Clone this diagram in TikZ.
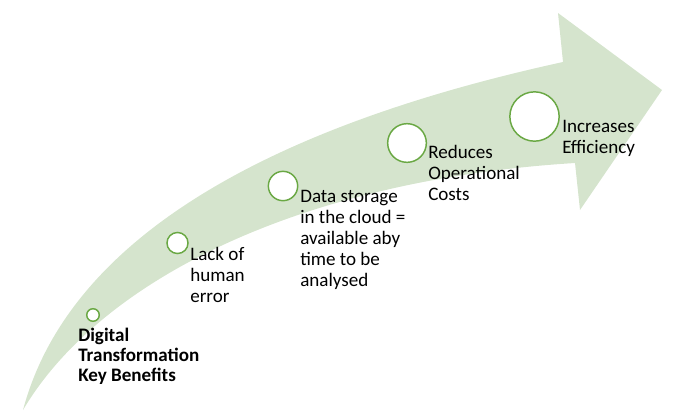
\documentclass[tikz,border=0pt]{standalone}
\usepackage{fontspec}
\setmainfont{Carlito}
\usetikzlibrary{positioning}
\definecolor{bandgreen}{RGB}{213,228,205}
\definecolor{ringgreen}{RGB}{106,168,68}

\tikzset{
  dot/.style={circle, draw=ringgreen, fill=white, line width=1.1pt, inner sep=0pt},
  benefit/.style={anchor=base west, align=left, inner sep=0pt, font=\fontsize{14.3}{15.75}\selectfont}
}

\begin{document}
\begin{tikzpicture}[x=0.75pt,y=-0.75pt]
  \useasboundingbox (0,0) rectangle (680,418);
  % the curved arrow
  \fill[bandgreen] (23,410) .. controls (75,215) and (320,115) .. (563,62) -- (558,13) -- (662,90)
    -- (580,210) -- (575,163) .. controls (300,180) and (100,280) .. (23,410) -- cycle;

  % the circles along the arrow
  \node(c1) [dot, minimum size=9.4pt] at (93,315) {};
  \node(c2) [dot, minimum size=15.8pt] at (177.5,243) {};
  \node(c3) [dot, minimum size=22pt] at (283,186) {};
  \node(c4) [dot, minimum size=29pt] at (407,143) {};
  \node(c5) [dot, minimum size=37pt] at (534.5,116.5) {};

  % the labels (base = last line)
  \node(t1) [benefit, font=\fontsize{14.3}{15}\selectfont\bfseries] at (78,381) {Digital\\Transformation\\Key Benefits};
  \node(t2) [benefit] at (190,302.7) {Lack of\\human\\error};
  \node(t3) [benefit] at (300,286) {Data storage\\in the cloud =\\available aby\\time to be\\analysed};
  \node(t4) [benefit] at (428,200.7) {Reduces\\Operational\\Costs};
  \node(t5) [benefit] at (562,153.7) {Increases\\Efficiency};
\end{tikzpicture}
\end{document}
